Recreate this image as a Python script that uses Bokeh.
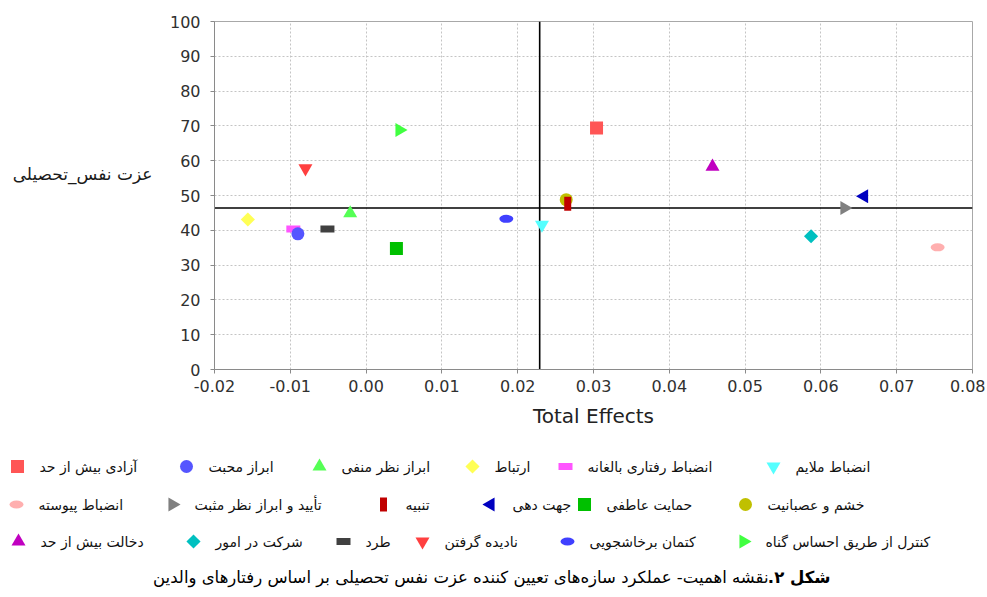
import math
from bokeh.plotting import figure
from bokeh.layouts import column, row
from bokeh.models import (Range1d, FixedTicker, NumeralTickFormatter, Span,
                          ColumnDataSource)
from bokeh.core.properties import value
from bokeh.embed import file_html
from bokeh.resources import INLINE

# ---------------- data ----------------
CONSTRUCTS = [
    "آزادی بیش از حد", "ابراز محبت", "ابراز نظر منفی", "ارتباط",
    "انضباط رفتاری بالغانه", "انضباط ملایم",
    "انضباط پیوسته", "تأیید و ابراز نظر مثبت", "تنبیه", "جهت دهی",
    "حمایت عاطفی", "خشم و عصبانیت",
    "دخالت بیش از حد", "شرکت در امور", "طرد", "نادیده گرفتن",
    "کتمان برخاشجویی", "کنترل از طریق احساس گناه",
]
TOTAL_EFFECTS = [0.0304, -0.0090, -0.0021, -0.0156, -0.0096, 0.0232,
                 0.0754, 0.0631, 0.0266, 0.0657, 0.0040, 0.0264,
                 0.0457, 0.0587, -0.0051, -0.0080, 0.0185, 0.0044]
PERFORMANCE = [69.4, 39.0, 44.9, 43.1, 40.4, 41.6,
               35.1, 46.4, 47.6, 49.8, 34.8, 48.8,
               58.3, 38.3, 40.4, 57.8, 43.3, 68.8]
MEAN_EFFECT = 0.0229
MEAN_PERFORMANCE = 46.4
X_TICKS = [-0.02, -0.01, 0.0, 0.01, 0.02, 0.03, 0.04, 0.05, 0.06, 0.07, 0.08]
Y_TICKS = [0, 10, 20, 30, 40, 50, 60, 70, 80, 90, 100]
X_TITLE = "Total Effects"
Y_TITLE = "عزت نفس_تحصیلی"
CAPTION_BOLD = "شکل ۲.\u200f"
CAPTION_REST = "نقشه اهمیت- عملکرد سازه‌های تعیین کننده عزت نفس تحصیلی بر اساس رفتارهای والدین"

# ---------------- styles ----------------
COLORS = ["#FF5555", "#5555FF", "#55FF55", "#FFFF55", "#FF55FF", "#55FFFF",
          "#FFAFAF", "#808080", "#C00000", "#0000C0", "#00C000", "#C0C000",
          "#C000C0", "#00C0C0", "#404040", "#FF4040", "#4040FF", "#40FF40"]
SHAPE_CYCLE = ["square", "circle", "up", "diamond", "hrect", "down",
               "hellipse", "right", "vrect", "left"]
SHAPES = [SHAPE_CYCLE[i % len(SHAPE_CYCLE)] for i in range(len(CONSTRUCTS))]
FONT = "DejaVu Sans"

# page geometry (pixels)
PAGE_W, PAGE_H = 985, 595
YT_W = 160                      # width of the y-title strip
FL, FR, FT, FB = 214, 972, 21, 369
MAIN_H = 440
X_MIN, X_MAX, Y_MIN, Y_MAX = -0.02, 0.08, 0.0, 100.0

# legend layout (page pixels): marker centres, rows of six
LEG_ROWS_Y = [466, 504, 541]
LEG_COLS_X = [[17, 186, 319, 472, 565, 773],
              [16, 172, 383, 490, 584, 745],
              [18, 193, 343, 422, 567, 743]]
TEXT_GAP = 22


def draw_marker(fig, xs, ys, shape, col):
    src = ColumnDataSource(dict(x=xs, y=ys))
    common = dict(source=src, fill_color=col, line_color=None)
    if shape == "square":
        return fig.scatter("x", "y", marker="square", size=13, **common)
    if shape == "circle":
        return fig.scatter("x", "y", marker="circle", size=13, **common)
    if shape == "up":
        return fig.scatter("x", "y", marker="triangle", size=14, **common)
    if shape == "down":
        return fig.scatter("x", "y", marker="inverted_triangle", size=14, **common)
    if shape == "right":
        return fig.scatter("x", "y", marker="triangle", size=14, angle=-math.pi / 2, **common)
    if shape == "left":
        return fig.scatter("x", "y", marker="triangle", size=14, angle=math.pi / 2, **common)
    if shape == "diamond":
        return fig.scatter("x", "y", marker="square", size=10, angle=math.pi / 4, **common)
    if shape == "hrect":
        return fig.rect("x", "y", width=14, height=7, width_units="screen",
                        height_units="screen", **common)
    if shape == "vrect":
        return fig.rect("x", "y", width=7, height=14, width_units="screen",
                        height_units="screen", **common)
    if shape == "hellipse":
        return fig.ellipse("x", "y", width=14, height=8, width_units="screen",
                           height_units="screen", **common)


def blank_fig(w, h, x0, x1, y0, y1):
    f = figure(width=w, height=h, x_range=Range1d(x0, x1), y_range=Range1d(y0, y1),
               x_axis_type=None, y_axis_type=None, output_backend="svg",
               toolbar_location=None, min_border=0,
               background_fill_color="white", border_fill_color="white")
    f.outline_line_color = None
    return f


# ---------------- main chart ----------------
p = figure(frame_width=FR - FL, frame_height=FB - FT,
           min_border_left=FL - YT_W, min_border_right=PAGE_W - FR,
           min_border_top=FT, min_border_bottom=MAIN_H - FB,
           x_range=Range1d(X_MIN, X_MAX), y_range=Range1d(Y_MIN, Y_MAX),
           output_backend="svg", toolbar_location=None,
           background_fill_color="white", border_fill_color="white")
p.outline_line_color = "#a8a8a8"
p.outline_line_width = 1

p.xaxis.ticker = FixedTicker(ticks=X_TICKS)
p.yaxis.ticker = FixedTicker(ticks=Y_TICKS)
p.xaxis.formatter = NumeralTickFormatter(format="0.00")
p.xgrid.ticker = FixedTicker(ticks=X_TICKS)
p.ygrid.ticker = FixedTicker(ticks=Y_TICKS)
for ax in (p.xaxis, p.yaxis):
    ax.axis_line_color = "#8a8a8a"
    ax.major_tick_line_color = "#8a8a8a"
    ax.major_tick_out = 4
    ax.major_tick_in = 0
    ax.minor_tick_line_color = None
    ax.major_label_text_font = FONT
    ax.major_label_text_font_size = "16px"
    ax.major_label_text_color = "#303030"
p.xaxis.major_label_standoff = 6
p.yaxis.major_label_standoff = 10
p.xaxis.axis_label = X_TITLE
p.xaxis.axis_label_text_font = FONT
p.xaxis.axis_label_text_font_size = "20px"
p.xaxis.axis_label_text_font_style = "normal"
p.xaxis.axis_label_text_color = "#222222"
p.xaxis.axis_label_standoff = 9

p.grid.grid_line_color = "#c4c4c4"
p.grid.grid_line_dash = "2 2"
p.grid.grid_line_width = 1

p.add_layout(Span(location=MEAN_EFFECT, dimension="height", line_color="black",
                  line_width=1.6, level="underlay"))
p.add_layout(Span(location=MEAN_PERFORMANCE, dimension="width", line_color="black",
                  line_width=1.6, level="underlay"))

for i in reversed(range(len(CONSTRUCTS))):
    draw_marker(p, [TOTAL_EFFECTS[i]], [PERFORMANCE[i]], SHAPES[i], COLORS[i])

# ---------------- y title strip ----------------
yt = blank_fig(YT_W, MAIN_H, 0, YT_W, MAIN_H, 0)
yt.text(x=[152], y=[193], text=[Y_TITLE], text_align="right",
        text_baseline="middle", text_font=value(FONT), text_font_size="17px",
        text_color="#1a1a1a")

# ---------------- legend + caption ----------------
lg = blank_fig(PAGE_W, PAGE_H - MAIN_H, 0, PAGE_W, PAGE_H, MAIN_H)
for i in range(len(CONSTRUCTS)):
    r_, c_ = divmod(i, 6)
    cx, cy = LEG_COLS_X[r_][c_], LEG_ROWS_Y[r_]
    draw_marker(lg, [cx], [cy], SHAPES[i], COLORS[i])
    lg.text(x=[cx + TEXT_GAP], y=[cy], text=[CONSTRUCTS[i]], text_align="left",
            text_baseline="middle", text_font=value(FONT), text_font_size="14px",
            text_color="#111111")

lg.text(x=[830], y=[577], text=[CAPTION_BOLD], text_align="right",
        text_baseline="middle", text_font=value(FONT), text_font_size="16.5px",
        text_font_style="bold", text_color="black")
lg.text(x=[768], y=[577], text=[CAPTION_REST], text_align="right",
        text_baseline="middle", text_font=value(FONT), text_font_size="16.5px",
        text_color="black")

page = column(row(yt, p, spacing=0), lg, spacing=0)
open("out.html", "w").write(file_html(page, INLINE))
